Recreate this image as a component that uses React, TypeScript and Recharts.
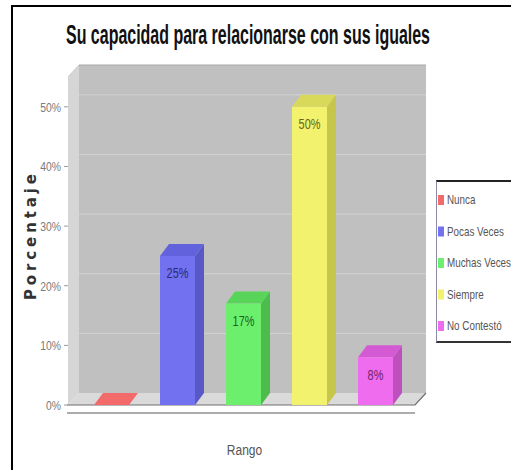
import React from 'react';
import { BarChart, Bar, XAxis, YAxis, Cell, LabelList, Legend, ReferenceArea, Label } from 'recharts';

const categories = ['Nunca', 'Pocas Veces', 'Muchas Veces', 'Siempre', 'No Contestó'];
const percentages = [0, 25, 17, 50, 8];
const yTicks = [0, 10, 20, 30, 40, 50];
const Y_MAX = 55;
const TITLE = 'Su capacidad para relacionarse con sus iguales';
const Y_LABEL = 'Porcentaje';
const X_LABEL = 'Rango';

const data = categories.map((c, i) => ({ name: c, value: percentages[i] }));

const FRONT = ['#f26a6a', '#7272f0', '#6cef6c', '#f2f26e', '#ef6cef'];
const TOP = ['#f26a6a', '#6262dc', '#58d458', '#d8d85a', '#d45ad4'];
const SIDE = ['#d85858', '#5858c6', '#4cbc4c', '#c6c64c', '#be50be'];
const LABEL_C = ['#000', '#2a2a70', '#235f23', '#66661c', '#6b236b'];

const SANS = "'Liberation Sans', Arial, sans-serif";

const DX = 9;
const DY = 12;
const WDX = 11;
const WDY = 12;
const PAD_L = 10;
const PAD_R = 7;

const NarrowText = ({ x, y, sx, anchor, size, fill, weight, children }: any) => (
  <g transform={`translate(${x},${y}) scale(${sx},1)`}>
    <text x={0} y={0} textAnchor={anchor || 'start'} dominantBaseline="central" fontSize={size} fontFamily={SANS} fill={fill} fontWeight={weight || 'normal'}>
      {children}
    </text>
  </g>
);

const Bar3D = (props: any) => {
  const { x, y, width, height, index } = props;
  if (x == null || y == null) return null;
  const w = width;
  const h = Math.max(0, height || 0);
  const top = `${x},${y} ${x + DX},${y - DY} ${x + w + DX},${y - DY} ${x + w},${y}`;
  if (h < 0.5) {
    return <polygon points={top} fill={TOP[index]} />;
  }
  const side = `${x + w},${y} ${x + w + DX},${y - DY} ${x + w + DX},${y + h - DY} ${x + w},${y + h}`;
  return (
    <g>
      <polygon points={side} fill={SIDE[index]} />
      <polygon points={top} fill={TOP[index]} />
      <rect x={x} y={y} width={w} height={h} fill={FRONT[index]} />
    </g>
  );
};

const Walls = (props: any) => {
  const { x, y, width, height } = props;
  if (x == null) return null;
  const L = x - PAD_L;
  const R = x + width + PAD_R;
  const T = y;
  const B = y + height;
  return (
    <g>
      <polygon points={`${L},${T} ${L + WDX},${T - WDY} ${L + WDX},${B - WDY} ${L},${B}`} fill="#d6d6d6" />
      <rect x={L + WDX} y={T - WDY} width={R - L} height={B - T} fill="#c0c0c0" />
      <line x1={L + WDX} y1={T - WDY} x2={R + WDX} y2={T - WDY} stroke="#a8a8a8" />
      <line x1={L} y1={T} x2={L + WDX} y2={T - WDY} stroke="#c8c8c8" />
      {yTicks.filter((t) => t > 0).map((t) => {
        const yy = B - (height * t) / Y_MAX - WDY;
        return <line key={t} x1={L + WDX} y1={yy} x2={R + WDX} y2={yy} stroke="#d2d2d2" strokeWidth={1} />;
      })}
      <polygon points={`${L},${B} ${L + WDX},${B - WDY} ${R + WDX},${B - WDY} ${R},${B}`} fill="#dadada" />
      <polyline points={`${L - 1},${B} ${R},${B} ${R + WDX},${B - WDY}`} fill="none" stroke="#6e6e6e" strokeWidth={1.2} />
      <line x1={L - 1} y1={B + 8} x2={R} y2={B + 8} stroke="#5a5a5a" strokeWidth={1.2} />
    </g>
  );
};

const ValueLabel = (props: any) => {
  const { x, y, width, value, index } = props;
  if (!value) return null;
  return (
    <NarrowText x={x + width / 2} y={y + 18} sx={0.78} anchor="middle" size={14} fill={LABEL_C[index]}>
      {`${value}%`}
    </NarrowText>
  );
};

const YTick = (props: any) => {
  const { x, y, payload } = props;
  return (
    <NarrowText x={x} y={y} sx={0.8} anchor="end" size={13} fill="#7a7a7a">
      {`${payload.value}%`}
    </NarrowText>
  );
};

const YLabel = (props: any) => {
  const vb = props.viewBox || {};
  const cx = (vb.x || 0) + 13;
  const cy = (vb.y || 0) + (vb.height || 0) / 2 - 4;
  return (
    <text
      x={cx}
      y={cy}
      transform={`rotate(-90 ${cx} ${cy})`}
      textAnchor="middle"
      dominantBaseline="central"
      fontSize={15}
      fontWeight="bold"
      fontFamily="'DejaVu Sans', Verdana, sans-serif"
      fill="#333"
      textLength={126}
      lengthAdjust="spacing"
    >
      {Y_LABEL}
    </text>
  );
};

const XLabel = (props: any) => {
  const vb = props.viewBox || {};
  const cx = (vb.x || 0) + (vb.width || 0) / 2 + 3;
  return (
    <NarrowText x={cx} y={(vb.y || 0) + 45} sx={0.8} anchor="middle" size={15} fill="#555">
      {X_LABEL}
    </NarrowText>
  );
};

const LegendBox = () => (
  <div
    style={{
      width: 95,
      height: 163,
      background: '#fff',
      borderTop: '2px solid #222',
      borderLeft: '1px solid #8a8aa8',
      borderBottom: '2px solid #333',
      boxSizing: 'border-box',
      position: 'relative',
    }}
  >
    <svg width={95} height={160} style={{ position: 'absolute', left: 0, top: 0 }}>
      {categories.map((c, i) => {
        const cy = 18 + i * 31.5;
        return (
          <g key={c}>
            <rect x={1} y={cy - 5} width={6} height={10} fill={FRONT[i]} />
            <NarrowText x={10} y={cy} sx={0.82} size={12} fill="#555">
              {c}
            </NarrowText>
          </g>
        );
      })}
    </svg>
  </div>
);

export default function App() {
  return (
    <div style={{ position: 'absolute', left: 0, top: 0, width: 511, height: 470, overflow: 'hidden', background: '#fff' }}>
      <div
        style={{
          position: 'absolute',
          left: 11,
          top: 5,
          width: 600,
          height: 600,
          borderLeft: '2px solid #000',
          borderTop: '2px solid #000',
        }}
      />
      <svg width={511} height={60} style={{ position: 'absolute', left: 0, top: 0 }}>
        <g transform="translate(248,34) scale(0.56,1)">
          <text
            x={0}
            y={0}
            textAnchor="middle"
            dominantBaseline="central"
            fontSize={28}
            fontWeight="bold"
            fontFamily={SANS}
            fill="#111"
            textLength={650}
            lengthAdjust="spacingAndGlyphs"
          >
            {TITLE}
          </text>
        </g>
      </svg>
      <div style={{ position: 'absolute', left: 0, top: 0 }}>
        <BarChart width={511} height={470} data={data} margin={{ top: 77, right: 96, left: 18, bottom: 5 }} barSize={35}>
          <ReferenceArea x1={categories[0]} x2={categories[categories.length - 1]} y1={0} y2={Y_MAX} shape={<Walls />} ifOverflow="visible" />
          <XAxis
            dataKey="name"
            height={60}
            padding={{ left: PAD_L, right: PAD_R }}
            tick={false}
            tickLine={false}
            axisLine={false}
          >
            <Label content={<XLabel />} />
          </XAxis>
          <YAxis
            width={50}
            domain={[0, Y_MAX]}
            ticks={yTicks}
            axisLine={false}
            tickLine={{ stroke: '#999' }}
            tickSize={4}
            tickMargin={3}
            tick={<YTick />}
            allowDataOverflow
          >
            <Label content={<YLabel />} />
          </YAxis>
          <Legend
            layout="vertical"
            align="center"
            verticalAlign="middle"
            content={<LegendBox />}
            wrapperStyle={{ left: 436, top: 180, width: 95, height: 163 }}
          />
          <Bar dataKey="value" shape={<Bar3D />} isAnimationActive={false}>
            {data.map((d, i) => (
              <Cell key={d.name} fill={FRONT[i]} />
            ))}
            <LabelList dataKey="value" content={<ValueLabel />} />
          </Bar>
        </BarChart>
      </div>
    </div>
  );
}
